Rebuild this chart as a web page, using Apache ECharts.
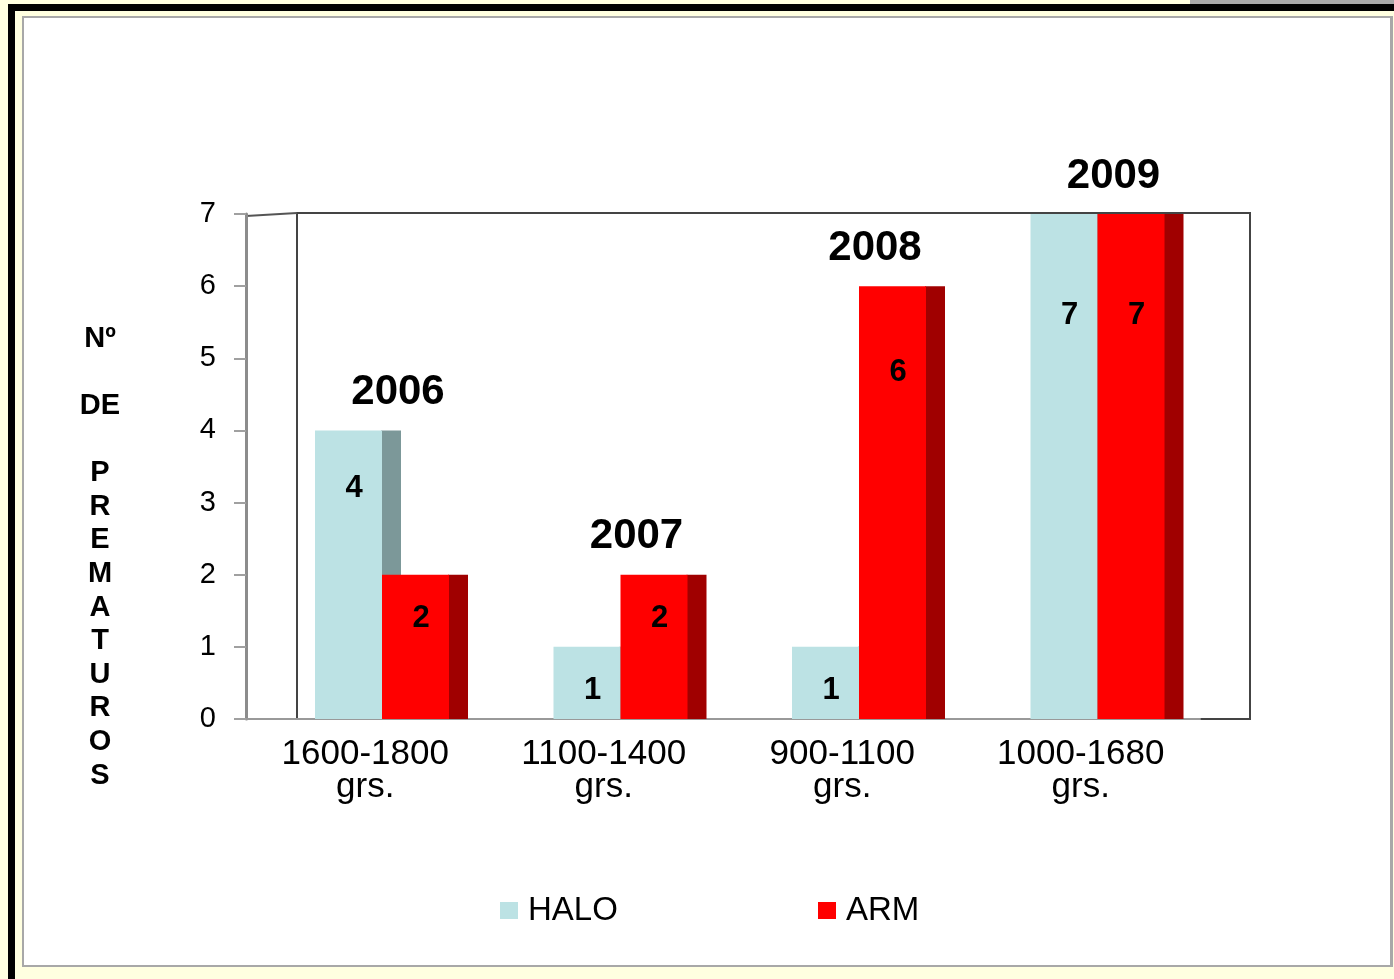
<!DOCTYPE html>
<html>
<head>
<meta charset="utf-8">
<script src="https://cdn.jsdelivr.net/npm/echarts@6/dist/echarts.min.js"></script>
<style>
  body { margin: 0; background: #ffffe0; width: 1394px; height: 979px; overflow: hidden; position: relative; }
  #topgray { position: absolute; left: 1190px; top: 0; width: 204px; height: 4px; background: #a9a9a9; }
  #outer { position: absolute; left: 8px; top: 4px; width: 1386px; height: 975px; border-top: 7px solid #000; border-left: 7px solid #000; box-sizing: border-box; }
  #panel { position: absolute; left: 22px; top: 16px; width: 1371px; height: 951px; background: #fff; border: 2px solid #a8a8a8; border-right-width: 3px; box-sizing: border-box; }
  #chart { position: absolute; left: 0; top: 0; width: 1394px; height: 979px; }
</style>
</head>
<body>
<div id="topgray"></div>
<div id="outer"></div>
<div id="panel"></div>
<div id="chart"></div>
<script>
// datos
var categories = ['1600-1800\ngrs.', '1100-1400\ngrs.', '900-1100\ngrs.', '1000-1680\ngrs.'];
var years = ['2006', '2007', '2008', '2009'];
var haloValues = [4, 1, 1, 7];
var armValues = [2, 2, 6, 7];
var seriesNames = ['HALO', 'ARM'];

var FONT = '"Liberation Sans", Arial, sans-serif';

function toPoints(values) {
    return values.map(function(v, i) {
        return [i, v];
    });
}

// barra con cara frontal y lateral (efecto 3D)
function barRenderer(slot, faceColor, sideColor) {
    return function(params, api) {
        var idx = api.value(0);
        var val = api.value(1);
        var top = api.coord([idx, val]);
        var base = api.coord([idx, 0]);
        var band = api.size([1, 0])[0];
        var left = top[0] - band / 2 + 69 + slot * 67;
        var h = base[1] - top[1];
        return {
            type : 'group',
            children : [{
                type : 'rect',
                shape : { x : left + 66, y : top[1], width : 20, height : h },
                style : { fill : sideColor }
            }, {
                type : 'rect',
                shape : { x : left, y : top[1], width : 67, height : h },
                style : { fill : faceColor }
            }, {
                type : 'text',
                x : left + 39,
                y : top[1] + Math.max(0.2 * h, 44),
                style : {
                    text : String(val),
                    font : 'bold 31px ' + FONT,
                    fill : '#000',
                    align : 'center',
                    verticalAlign : 'middle'
                }
            }]
        };
    };
}

function yearRenderer(params, api) {
    var idx = api.value(0);
    var top = api.coord([idx, api.value(1)]);
    var band = api.size([1, 0])[0];
    return {
        type : 'text',
        x : top[0] - band / 2 + 152,
        y : top[1] - 38,
        style : {
            text : years[params.dataIndex],
            font : 'bold 42px ' + FONT,
            fill : '#000',
            align : 'center',
            verticalAlign : 'middle'
        }
    };
}

var maxValues = haloValues.map(function(v, i) {
    return Math.max(v, armValues[i]);
});

var chart = echarts.init(document.getElementById('chart'));
var option = {
    backgroundColor : 'transparent',
    animation : false,
    grid : [{
        left : 246,
        top : 214,
        width : 954,
        height : 505,
        outerBoundsMode : 'none'
    }, {
        left : 297,
        top : 213,
        width : 953,
        height : 506,
        show : true,
        borderColor : '#444',
        borderWidth : 2,
        backgroundColor : 'transparent',
        outerBoundsMode : 'none'
    }],
    xAxis : [{
        type : 'category',
        gridIndex : 0,
        data : categories,
        axisLine : { lineStyle : { color : '#999', width : 2 } },
        axisTick : { length : 9, lineStyle : { color : '#999', width : 2 } },
        axisLabel : {
            color : '#000',
            fontFamily : FONT,
            fontSize : 35,
            lineHeight : 33,
            margin : 19,
            interval : 0
        }
    }, {
        type : 'value',
        gridIndex : 1,
        show : false
    }],
    yAxis : [{
        type : 'value',
        gridIndex : 0,
        min : 0,
        max : 7,
        interval : 1,
        splitLine : { show : false },
        axisLine : { show : true, lineStyle : { color : '#8c8c8c', width : 3 } },
        axisTick : { show : true, length : 12, lineStyle : { color : '#a0a0a0', width : 2 } },
        axisLabel : {
            color : '#000',
            fontFamily : FONT,
            fontSize : 29,
            margin : 30
        }
    }, {
        type : 'value',
        gridIndex : 1,
        show : false
    }],
    legend : [{
        data : ['HALO'],
        left : 495,
        top : 889,
        itemWidth : 18,
        itemHeight : 17,
        icon : 'rect',
        textStyle : { color : '#000', fontFamily : FONT, fontSize : 33, padding : [0, 0, 0, 5] }
    }, {
        data : ['ARM'],
        left : 813,
        top : 889,
        itemWidth : 18,
        itemHeight : 17,
        icon : 'rect',
        textStyle : { color : '#000', fontFamily : FONT, fontSize : 33, padding : [0, 0, 0, 5] }
    }],
    graphic : [{
        type : 'line',
        shape : { x1 : 246, y1 : 216, x2 : 297, y2 : 213 },
        style : { stroke : '#555', lineWidth : 2 }
    }, {
        type : 'text',
        x : 100,
        y : 322,
        style : {
            text : 'Nº\n\nDE\n\nP\nR\nE\nM\nA\nT\nU\nR\nO\nS',
            font : 'bold 29px ' + FONT,
            fill : '#000',
            align : 'center',
            verticalAlign : 'top',
            lineHeight : 33.6
        }
    }],
    series : [{
        name : seriesNames[0],
        type : 'custom',
        xAxisIndex : 0,
        yAxisIndex : 0,
        data : toPoints(haloValues),
        itemStyle : { color : '#bce2e4' },
        renderItem : barRenderer(0, '#bce2e4', '#7c9899')
    }, {
        name : seriesNames[1],
        type : 'custom',
        xAxisIndex : 0,
        yAxisIndex : 0,
        data : toPoints(armValues),
        itemStyle : { color : '#ff0000' },
        renderItem : barRenderer(1, '#ff0000', '#a00000')
    }, {
        name : 'years',
        type : 'custom',
        xAxisIndex : 0,
        yAxisIndex : 0,
        data : toPoints(maxValues),
        renderItem : yearRenderer
    }]
};
chart.setOption(option);
</script>
</body>
</html>
